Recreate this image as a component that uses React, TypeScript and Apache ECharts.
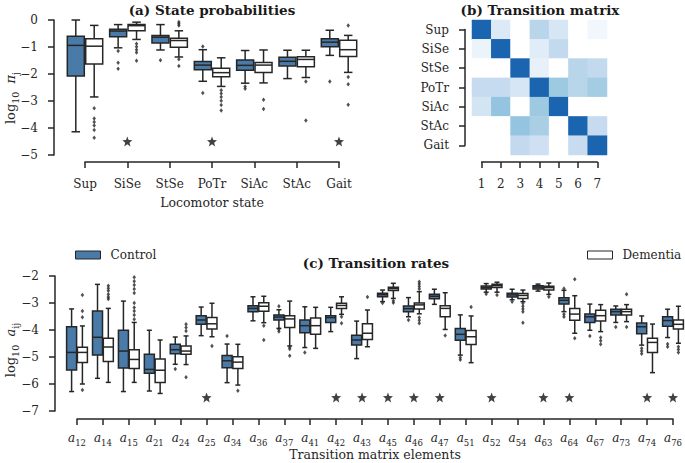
import React, { useEffect, useRef } from "react";
import * as echarts from "echarts";

// ---------- Data ----------
const states = ["Sup", "SiSe", "StSe", "PoTr", "SiAc", "StAc", "Gait"];
const matrixCols = ["1", "2", "3", "4", "5", "6", "7"];

// Panel (a): [low whisker, q1, median, q3, high whisker]
const probCtrl = [
  [-4.14, -2.07, -0.94, -0.6, 0],
  [-1.03, -0.62, -0.41, -0.34, -0.17],
  [-1.11, -0.85, -0.64, -0.57, -0.17],
  [-2.27, -1.84, -1.67, -1.54, -1.1],
  [-2.34, -1.86, -1.68, -1.48, -1.13],
  [-2.17, -1.7, -1.53, -1.38, -1.12],
  [-1.31, -0.99, -0.82, -0.69, -0.38],
];
const probDem = [
  [-2.85, -1.63, -0.97, -0.69, -0.2],
  [-0.72, -0.4, -0.21, -0.17, -0.08],
  [-1.37, -1.01, -0.76, -0.68, -0.4],
  [-2.46, -2.1, -1.95, -1.79, -1.4],
  [-2.33, -1.94, -1.67, -1.57, -1.11],
  [-2.13, -1.73, -1.46, -1.36, -1.12],
  [-1.94, -1.35, -1.1, -0.75, -0.57],
];
const probCtrlOut = [
  [],
  [-1.15, -1.58, -1.81],
  [-1.49],
  [-0.98, -2.7],
  [-2.46, -2.55],
  [],
  [-2.28],
];
const probDemOut = [
  [-3.27, -3.65, -3.78, -3.91, -4.07, -4.36],
  [-0.88, -0.99, -1.1, -1.2, -1.51],
  [-0.07, -0.14, -0.2, -1.45, -1.7],
  [-2.6, -2.72, -2.85, -2.99, -3.15, -3.35],
  [-2.95, -3.3],
  [-2.28, -3.72],
  [-0.2, -2.11, -2.38, -3.14],
];
const probStars = ["SiSe", "PoTr", "Gait"];
const probStarLevel = -4.5;

// Panel (b): transition matrix intensities (rows Sup..Gait, cols 1..7)
const transMatrix = [
  [1.0, 0.3, 0, 0.48, 0.33, 0, 0.15],
  [0.2, 1.0, 0, 0.27, 0.44, 0, 0],
  [0, 0, 1.0, 0.22, 0, 0.48, 0.44],
  [0.43, 0.43, 0.33, 1.0, 0.57, 0.48, 0.55],
  [0.35, 0.6, 0, 0.57, 1.0, 0, 0],
  [0, 0, 0.6, 0.53, 0, 1.0, 0.43],
  [0, 0, 0.44, 0.38, 0, 0.42, 1.0],
];

// Panel (c)
const elements = [
  "a12", "a14", "a15", "a21", "a24", "a25", "a34", "a36", "a37", "a41", "a42", "a43",
  "a45", "a46", "a47", "a51", "a52", "a54", "a63", "a64", "a67", "a73", "a74", "a76",
];
const rateCtrl = [
  [-6.28, -5.48, -4.83, -3.88, -3.22],
  [-5.79, -4.93, -4.27, -3.3, -2.31],
  [-6.28, -5.41, -4.78, -4.01, -2.93],
  [-6.26, -5.6, -5.46, -4.9, -4.01],
  [-5.27, -4.88, -4.73, -4.53, -4.26],
  [-4.21, -3.79, -3.63, -3.47, -3.15],
  [-5.95, -5.4, -5.14, -4.94, -4.52],
  [-3.66, -3.32, -3.2, -3.1, -2.77],
  [-3.94, -3.63, -3.52, -3.44, -3.25],
  [-4.65, -4.1, -3.84, -3.63, -3.14],
  [-4.06, -3.72, -3.54, -3.47, -3.16],
  [-5.06, -4.56, -4.37, -4.19, -3.67],
  [-2.95, -2.77, -2.69, -2.64, -2.52],
  [-3.51, -3.32, -3.21, -3.11, -2.8],
  [-3.05, -2.84, -2.75, -2.68, -2.49],
  [-4.93, -4.38, -4.16, -3.94, -3.44],
  [-2.6, -2.48, -2.43, -2.37, -2.28],
  [-2.88, -2.78, -2.7, -2.64, -2.49],
  [-2.56, -2.48, -2.41, -2.36, -2.3],
  [-3.32, -3.04, -2.9, -2.81, -2.53],
  [-4.01, -3.72, -3.51, -3.41, -3.04],
  [-3.72, -3.44, -3.32, -3.23, -3.11],
  [-4.56, -4.14, -3.88, -3.74, -3.48],
  [-4.28, -3.86, -3.65, -3.51, -3.23],
];
const rateDem = [
  [-6.0, -5.2, -4.83, -4.64, -3.85],
  [-5.94, -5.17, -4.63, -4.31, -3.2],
  [-5.94, -5.43, -5.09, -4.73, -3.72],
  [-6.35, -5.94, -5.49, -5.07, -4.37],
  [-5.28, -4.9, -4.78, -4.59, -4.22],
  [-4.25, -3.96, -3.77, -3.54, -3.01],
  [-6.04, -5.43, -5.19, -4.99, -4.53],
  [-3.73, -3.31, -3.12, -2.99, -2.75],
  [-4.59, -3.91, -3.59, -3.47, -2.93],
  [-4.68, -4.16, -3.84, -3.56, -3.16],
  [-3.42, -3.2, -3.09, -3.01, -2.77],
  [-4.62, -4.35, -4.12, -3.77, -3.26],
  [-2.83, -2.54, -2.47, -2.42, -2.27],
  [-3.4, -3.22, -3.07, -3.0, -2.58],
  [-3.98, -3.51, -3.2, -3.1, -2.62],
  [-5.21, -4.54, -4.25, -4.02, -3.48],
  [-2.6, -2.43, -2.36, -2.31, -2.23],
  [-2.95, -2.83, -2.72, -2.65, -2.52],
  [-2.68, -2.52, -2.43, -2.38, -2.26],
  [-4.12, -3.64, -3.41, -3.2, -2.73],
  [-4.06, -3.67, -3.47, -3.27, -3.06],
  [-3.69, -3.44, -3.32, -3.23, -3.06],
  [-5.58, -4.83, -4.46, -4.31, -3.78],
  [-4.49, -3.96, -3.79, -3.63, -3.12],
];
const rateCtrlOut = [
  [], [], [], [], [-5.44], [], [-4.22], [], [-3.12, -3.98, -4.06], [-4.83], [], [],
  [-3.0], [-3.63], [], [-5.02, -5.1], [-2.67], [-2.95], [], [-2.46, -3.42, -3.51],
  [-4.22], [-3.89], [-4.68, -4.78, -4.88], [-4.52, -4.62],
];
const rateDemOut = [
  [-2.7, -3.3, -3.53, -6.22],
  [-2.36, -2.45, -2.55, -2.68, -2.78, -2.85],
  [-2.05, -2.19, -2.33, -2.48, -2.63, -3.0, -3.17, -3.3, -3.44, -3.6],
  [],
  [-3.79, -3.91, -4.04, -5.75],
  [-4.59],
  [-6.25],
  [-3.84, -4.37],
  [-4.64, -4.7, -4.95],
  [],
  [-3.51, -3.75],
  [-2.78],
  [-2.92, -2.99],
  [-2.21, -2.3, -2.39, -2.48, -3.54, -3.64, -3.75],
  [-4.2],
  [-3.15],
  [-2.7],
  [-3.01, -3.12, -3.22, -3.32, -3.73],
  [-2.77],
  [-2.12, -4.31],
  [-4.28, -4.4, -4.53],
  [-2.68, -3.89],
  [],
  [-4.62, -4.72, -4.83],
];
const rateStars = ["a25", "a42", "a43", "a45", "a46", "a47", "a52", "a63", "a64", "a74", "a76"];
const rateStarLevel = -6.5;

// ---------- Styles ----------
const FONT = "DejaVu Serif";
const INK = "#262626";
const CTRL = "#4a7aa8";
const DEM = "#ffffff";
const LW = 1.5;
const STAR =
  "path://M12,1 L14.9,8.6 L23,9 L16.7,14.1 L18.9,22 L12,17.5 L5.1,22 L7.3,14.1 L1,9 L9.1,8.6 Z";

const minus = (v: number) => (v < 0 ? "\u2212" + Math.abs(v) : String(v));

function boxSeries(name: string, rows: number[][], axis: number, offset: number, width: number, fill: string) {
  return {
    type: "custom",
    name,
    xAxisIndex: axis,
    yAxisIndex: axis,
    clip: false,
    silent: true,
    z: 2,
    data: rows.map((r, i) => [i, ...r]),
    encode: { x: 0, y: [1, 2, 3, 4, 5] },
    renderItem: (_p: any, api: any) => {
      const c = api.value(0);
      const x = api.coord([c, api.value(3)])[0] + offset;
      const y = (k: number) => api.coord([c, api.value(k)])[1];
      const lo = y(1), q1 = y(2), md = y(3), q3 = y(4), hi = y(5);
      const ls = { stroke: INK, lineWidth: LW };
      const cap = width / 4;
      return {
        type: "group",
        children: [
          { type: "line", shape: { x1: x, y1: hi, x2: x, y2: q3 }, style: ls },
          { type: "line", shape: { x1: x, y1: q1, x2: x, y2: lo }, style: ls },
          { type: "line", shape: { x1: x - cap, y1: hi, x2: x + cap, y2: hi }, style: ls },
          { type: "line", shape: { x1: x - cap, y1: lo, x2: x + cap, y2: lo }, style: ls },
          {
            type: "rect",
            shape: { x: x - width / 2, y: q3, width, height: q1 - q3 },
            style: { fill, stroke: INK, lineWidth: LW },
          },
          { type: "line", shape: { x1: x - width / 2, y1: md, x2: x + width / 2, y2: md }, style: ls },
        ],
      };
    },
  };
}

function outlierSeries(outs: number[][], axis: number, offset: number) {
  const data: number[][] = [];
  outs.forEach((arr, i) => arr.forEach((v) => data.push([i, v])));
  return {
    type: "scatter",
    xAxisIndex: axis,
    yAxisIndex: axis,
    silent: true,
    z: 3,
    data,
    symbol: "diamond",
    symbolSize: [3.5, 4.5],
    symbolOffset: [offset, 0],
    itemStyle: { color: INK },
  };
}

function starSeries(cats: string[], all: string[], level: number, axis: number) {
  return {
    type: "scatter",
    xAxisIndex: axis,
    yAxisIndex: axis,
    silent: true,
    z: 3,
    data: cats.map((c) => [all.indexOf(c), level]),
    symbol: STAR,
    symbolSize: 10,
    itemStyle: { color: "#111" },
  };
}

const axisLine = { show: true, onZero: false, lineStyle: { color: INK, width: LW } };
const axisTick = { show: true, length: 6, lineStyle: { color: INK, width: LW } };
const labelBase = { fontFamily: FONT, fontSize: 12, color: INK };
const subRich = {
  n: { fontFamily: FONT, fontSize: 12, lineHeight: 18, color: INK },
  i: { fontFamily: FONT, fontSize: 12, fontStyle: "italic", lineHeight: 18, color: INK },
  s: { fontFamily: FONT, fontSize: 8.5, verticalAlign: "bottom", color: INK },
};
const nameRich = {
  n: { fontFamily: FONT, fontSize: 13, lineHeight: 20, color: INK },
  i: { fontFamily: FONT, fontSize: 13, fontStyle: "italic", lineHeight: 20, color: INK },
  s: { fontFamily: FONT, fontSize: 9.5, verticalAlign: "bottom", color: INK },
};
const hidden = {
  axisLine: { show: false, onZero: false }, axisTick: { show: false }, axisLabel: { show: false }, splitLine: { show: false },
};

export default function App() {
  const ref = useRef<HTMLDivElement>(null);
  useEffect(() => {
    if (!ref.current) return;
    const chart = echarts.init(ref.current, undefined, { renderer: "svg" });
    const heatData: number[][] = [];
    transMatrix.forEach((row, r) => row.forEach((v, c) => heatData.push([c, r, v])));

    const series: any[] = [
      boxSeries("Control", probCtrl, 0, -9.2, 17, CTRL),
      boxSeries("Dementia", probDem, 0, 9.2, 17, DEM),
      outlierSeries(probCtrlOut, 0, -9.2),
      outlierSeries(probDemOut, 0, 9.2),
      starSeries(probStars, states, probStarLevel, 0),
      {
        type: "heatmap", xAxisIndex: 1, yAxisIndex: 1, data: heatData, silent: true,
        itemStyle: { borderWidth: 0 },
      },
      boxSeries("Control", rateCtrl, 2, -5.4, 10, CTRL),
      boxSeries("Dementia", rateDem, 2, 5.4, 10, DEM),
      outlierSeries(rateCtrlOut, 2, -5.4),
      outlierSeries(rateDemOut, 2, 5.4),
      starSeries(rateStars, elements, rateStarLevel, 2),
    ];

    const option: any = {
      animation: false,
      backgroundColor: "#ffffff",
      grid: [
        { left: 85, top: 20, width: 254, height: 135, outerBoundsMode: "none" },
        { left: 472, top: 20, width: 135, height: 135, outerBoundsMode: "none" },
        { left: 77, top: 276, width: 596, height: 135, outerBoundsMode: "none" },
        { left: 481.6, top: 29.6, width: 115.8, height: 115.8, outerBoundsMode: "none" },
      ],
      xAxis: [
        {
          gridIndex: 0, type: "category", data: states, boundaryGap: false, offset: 7,
          axisLine, axisTick: { ...axisTick, interval: 0 },
          axisLabel: { ...labelBase, margin: 16, interval: 0 },
          splitLine: { show: false },
          name: "Locomotor state", nameLocation: "middle", nameGap: 34,
          nameTextStyle: { ...labelBase, fontSize: 12.5 },
        },
        { gridIndex: 1, type: "category", data: matrixCols, ...hidden },
        {
          gridIndex: 2, type: "category", data: elements, boundaryGap: false, offset: 8,
          axisLine, axisTick: { ...axisTick, interval: 0 },
          axisLabel: {
            ...labelBase, margin: 10, interval: 0,
            formatter: (v: string) => `{i|${v.charAt(0)}}{s|${v.slice(1)}}`,
            rich: subRich,
          },
          splitLine: { show: false },
          name: "Transition matrix elements", nameLocation: "middle", nameGap: 28,
          nameTextStyle: { ...labelBase, fontSize: 12.5 },
        },
        {
          gridIndex: 3, type: "category", data: matrixCols, boundaryGap: false, offset: 16.6,
          axisLine, axisTick: { ...axisTick, interval: 0 },
          axisLabel: { ...labelBase, margin: 16, interval: 0 },
          splitLine: { show: false },
        },
      ],
      yAxis: [
        {
          gridIndex: 0, type: "value", min: -5, max: 0, interval: 1, offset: 31,
          axisLine, axisTick,
          axisLabel: { ...labelBase, margin: 16, formatter: minus },
          splitLine: { show: false },
        },
        { gridIndex: 1, type: "category", data: states, inverse: true, ...hidden },
        {
          gridIndex: 2, type: "value", min: -7, max: -2, interval: 1, offset: 22,
          axisLine, axisTick,
          axisLabel: { ...labelBase, margin: 16, formatter: minus },
          splitLine: { show: false },
        },
        {
          gridIndex: 3, type: "category", data: states, inverse: true, boundaryGap: false, offset: 16.6,
          axisLine, axisTick: { ...axisTick, interval: 0 },
          axisLabel: { ...labelBase, margin: 16, interval: 0 },
          splitLine: { show: false },
        },
      ],
      visualMap: {
        show: false, type: "continuous", min: 0, max: 1, dimension: 2, seriesIndex: 5,
        inRange: {
          color: ["#ffffff", "#f3f8fd", "#deebf7", "#c6dbef", "#9ecae1", "#6baed6", "#4292c6", "#1b64af"],
        },
      },
      legend: [
        {
          data: [{ name: "Control", icon: "rect", itemStyle: { color: CTRL, borderColor: INK, borderWidth: 1 } }],
          left: 70, top: 244, itemWidth: 25, itemHeight: 8, selectedMode: false,
          textStyle: { ...labelBase, padding: [0, 0, 0, 5] },
        },
        {
          data: [{ name: "Dementia", icon: "rect", itemStyle: { color: DEM, borderColor: INK, borderWidth: 1 } }],
          left: 582, top: 244, itemWidth: 25, itemHeight: 8, selectedMode: false,
          textStyle: { ...labelBase, padding: [0, 0, 0, 5] },
        },
      ],
      series,
      graphic: [
        {
          type: "text", x: 212, y: 10,
          style: { text: "(a) State probabilities", fontFamily: FONT, fontSize: 13.5, fontWeight: "bold", fill: "#1a1a1a", align: "center", verticalAlign: "middle" },
        },
        {
          type: "text", x: 540, y: 10,
          style: { text: "(b) Transition matrix", fontFamily: FONT, fontSize: 13.5, fontWeight: "bold", fill: "#1a1a1a", align: "center", verticalAlign: "middle" },
        },
        {
          type: "text", x: 376, y: 263,
          style: { text: "(c) Transition rates", fontFamily: FONT, fontSize: 13.5, fontWeight: "bold", fill: "#1a1a1a", align: "center", verticalAlign: "middle" },
        },
        {
          type: "text", x: 10, y: 98, rotation: Math.PI / 2,
          style: { text: "{n|log}{s|10}{i|  \u03c0}{s|j}", fontFamily: FONT, fontSize: 13, fill: INK, align: "center", verticalAlign: "middle", rich: nameRich },
        },
        {
          type: "text", x: 10, y: 350, rotation: Math.PI / 2,
          style: { text: "{n|log}{s|10}{i|  a}{s|ij}", fontFamily: FONT, fontSize: 13, fill: INK, align: "center", verticalAlign: "middle", rich: nameRich },
        },
      ],
    };
    chart.setOption(option);
    return () => chart.dispose();
  }, []);
  return (
    <div
      ref={ref}
      style={{ position: "fixed", left: 0, top: 0, width: 685, height: 463, background: "#fff" }}
    />
  );
}
